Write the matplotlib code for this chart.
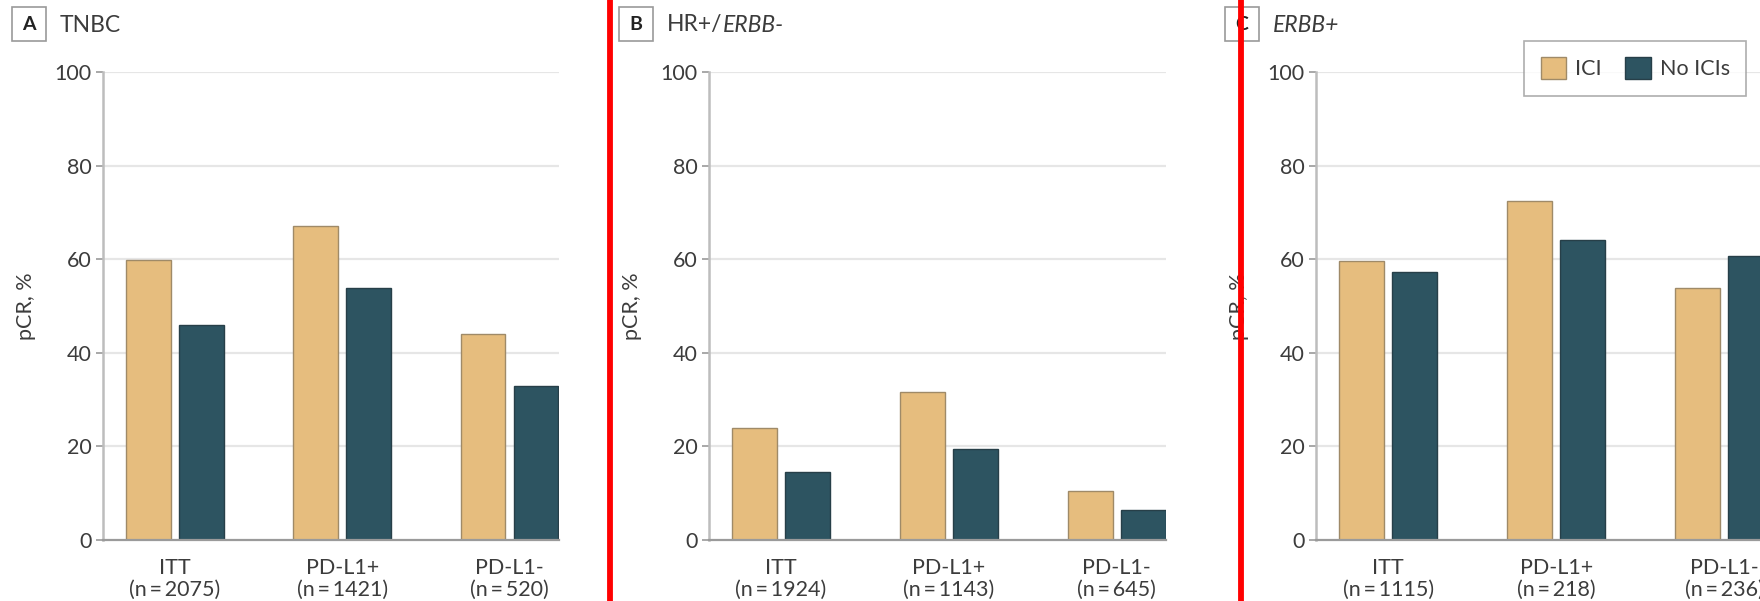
import matplotlib
matplotlib.use("Agg")
import matplotlib.pyplot as plt
from matplotlib.patches import Rectangle
from matplotlib.lines import Line2D
import numpy as np

plt.rcParams['font.family'] = ['Lato', 'DejaVu Sans']

# ---- data ----
categories = ["ITT", "PD-L1+", "PD-L1-"]
series_names = ["ICI", "No ICIs"]
panel_letters = ["A", "B", "C"]
panel_titles = [("TNBC", ""), ("HR+/", "ERBB-"), ("", "ERBB+")]
n_labels = [["2075", "1421", "520"],
            ["1924", "1143", "645"],
            ["1115", "218", "236"]]
ici_values = [[59.9, 67.1, 44.0],
              [24.0, 31.6, 10.4],
              [59.6, 72.4, 53.8]]
noici_values = [[45.9, 53.8, 32.9],
                [14.6, 19.5, 6.4],
                [57.3, 64.2, 60.6]]
yticks = [0, 20, 40, 60, 80, 100]

# ---- style ----
W, H = 1760, 601
ICI_C = "#E6BD7E"
NO_C = "#2D5461"
TXT = "#3c3c3c"
fig = plt.figure(figsize=(W / 100, H / 100), dpi=100)

ax_left_px = [103, 708.6, 1316]
ax_width_px = [455.5, 457.3, 457.3]
y0_px, y100_px = 540, 72
bar_w = 0.268
off = 0.158
FS = 15.5
TS = "\u2009"

for i in range(3):
    ax = fig.add_axes([ax_left_px[i] / W, (H - y0_px) / H,
                       ax_width_px[i] / W, (y0_px - y100_px) / H])
    x = np.arange(len(categories))
    ax.bar(x - off, ici_values[i], bar_w, color=ICI_C, edgecolor="#9f8a68",
           linewidth=1.0, label=series_names[0], zorder=3)
    ax.bar(x + off, noici_values[i], bar_w, color=NO_C, edgecolor="#273f48",
           linewidth=1.0, label=series_names[1], zorder=3)
    ax.set_xlim(-0.43, 2.293)
    ax.set_ylim(0, 100)
    ax.set_yticks(yticks)
    ax.set_yticklabels([str(t) for t in yticks], fontsize=FS, color=TXT)
    ax.set_xticks(x)
    ax.set_xticklabels([f"{c}\n(n{TS}={TS}{n})" for c, n in zip(categories, n_labels[i])],
                       fontsize=FS, color=TXT, linespacing=1.1)
    ax.tick_params(axis='x', length=0, pad=13)
    ax.tick_params(axis='y', length=5, width=1.2, color="#9a9a9a", pad=3)
    for t in yticks[1:]:
        ax.axhline(t, color="#e6e6e6", linewidth=1.6, zorder=1)
    for s in ["top", "right"]:
        ax.spines[s].set_visible(False)
    ax.spines["left"].set_color("#bdbdbd")
    ax.spines["left"].set_linewidth(1.8)
    ax.spines["bottom"].set_color("#9a9a9a")
    ax.spines["bottom"].set_linewidth(1.6)
    ax.spines["bottom"].set_zorder(4)
    ax.set_ylabel("pCR, %", fontsize=FS, color=TXT)
    ax.yaxis.set_label_coords(-67 / ax_width_px[i], 0.5)
    if i == 2:
        handles, labels = ax.get_legend_handles_labels()

# panel headers
box_left = [12, 619, 1225]
fig.canvas.draw()
r = fig.canvas.get_renderer()
for i in range(3):
    bx, by, bs = box_left[i], 7, 34
    fig.patches.append(Rectangle((bx / W, 1 - (by + bs) / H), bs / W, bs / H,
                                 transform=fig.transFigure, facecolor="white",
                                 edgecolor="#9a9a9a", linewidth=1.2))
    fig.text((bx + bs / 2) / W, 1 - (by + bs / 2) / H, panel_letters[i],
             ha="center", va="center", fontsize=14, fontweight="bold", color="#222222")
    tx = (bx + 48) / W
    ty = 1 - 25 / H
    reg, ital = panel_titles[i]
    t1 = fig.text(tx, ty, reg, ha="left", va="center", fontsize=16.5, color=TXT)
    if ital:
        xi = tx
        if reg:
            bb = t1.get_window_extent(renderer=r)
            xi = bb.x1 / W
        fig.text(xi, ty, ital, ha="left", va="center", fontsize=16.5, color=TXT,
                 style="italic")

leg = fig.legend(handles, labels, loc="upper right", ncol=2,
                 bbox_to_anchor=(1746 / W, 1 - 41 / H), borderaxespad=0,
                 fontsize=FS, frameon=True, fancybox=False, edgecolor="#9a9a9a",
                 handlelength=1.2, handleheight=1.2, handletextpad=0.4,
                 columnspacing=1.1, borderpad=0.75, labelcolor=TXT)
leg.get_frame().set_linewidth(1.2)

# red separators
for xr in [610, 1240.5]:
    fig.add_artist(Line2D([xr / W, xr / W], [0, 1], transform=fig.transFigure,
                          color="#ff0000", linewidth=4.2, zorder=10))

fig.savefig("out.png", dpi=100)
